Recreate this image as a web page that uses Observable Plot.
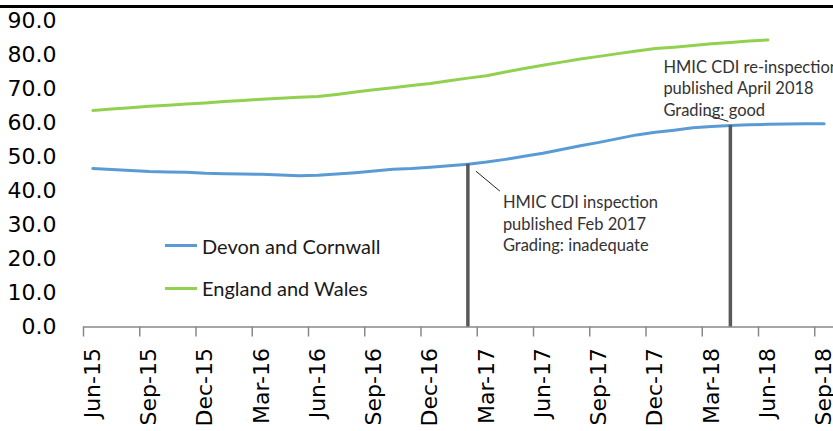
<!DOCTYPE html>
<html>
<head>
<meta charset="utf-8">
<script src="https://cdn.jsdelivr.net/npm/d3@7"></script>
<script src="https://cdn.jsdelivr.net/npm/@observablehq/plot@0.6"></script>
<style>
  body { margin: 0; background: #fff; }
  #wrap { position: relative; width: 833px; height: 431px; overflow: hidden; background: #fff; }
  #topline { position: absolute; left: 0; top: 4.5px; width: 833px; height: 3px; background: #000; }
  .leg { position: absolute; left: 165px; height: 24px; display: flex; align-items: center;
         font-family: Lato, "Open Sans", sans-serif; font-size: 20px; color: #1a1a1a; white-space: nowrap; }
  .sw { width: 32px; height: 3px; margin-right: 5px; }
</style>
</head>
<body>
<div id="wrap"><div id="topline"></div></div>
<script>
// ---- data ----
const months = [
  "Jun-15","Jul-15","Aug-15","Sep-15","Oct-15","Nov-15","Dec-15","Jan-16","Feb-16","Mar-16",
  "Apr-16","May-16","Jun-16","Jul-16","Aug-16","Sep-16","Oct-16","Nov-16","Dec-16","Jan-17",
  "Feb-17","Mar-17","Apr-17","May-17","Jun-17","Jul-17","Aug-17","Sep-17","Oct-17","Nov-17",
  "Dec-17","Jan-18","Feb-18","Mar-18","Apr-18","May-18","Jun-18","Jul-18","Aug-18","Sep-18"
];
const devonCornwall = [
  46.6, 46.3, 46.0, 45.7, 45.6, 45.5, 45.2, 45.1, 45.0, 44.9,
  44.7, 44.5, 44.6, 45.0, 45.4, 45.9, 46.4, 46.6, 47.0, 47.4,
  47.9, 48.5, 49.3, 50.2, 51.1, 52.2, 53.3, 54.3, 55.4, 56.5,
  57.3, 57.9, 58.6, 59.0, 59.3, 59.5, 59.6, 59.7, 59.8, 59.8
];
const englandWales = [
  63.7, 64.1, 64.5, 64.9, 65.2, 65.6, 65.9, 66.3, 66.6, 67.0,
  67.3, 67.6, 67.8, 68.4, 69.1, 69.8, 70.4, 71.0, 71.6, 72.4,
  73.2, 73.9, 75.0, 76.0, 77.0, 77.9, 78.8, 79.6, 80.4, 81.2,
  81.9, 82.3, 82.8, 83.3, 83.7, 84.1, 84.4
];
const seriesNames = ["Devon and Cornwall", "England and Wales"];
const tickLabels = ["Jun-15","Sep-15","Dec-15","Mar-16","Jun-16","Sep-16","Dec-16",
                    "Mar-17","Jun-17","Sep-17","Dec-17","Mar-18","Jun-18","Sep-18"];
const yTicks = [0, 10, 20, 30, 40, 50, 60, 70, 80, 90];
const annotationMonths = ["Feb-17", "Apr-18"];
const annotationTexts = [
  "HMIC CDI inspection\npublished Feb 2017\nGrading: inadequate",
  "HMIC CDI re-inspection\npublished April 2018\nGrading: good"
];

// ---- derived tables ----
const devonRows = devonCornwall.map((v, i) => ({i, v}));
const englandRows = englandWales.map((v, i) => ({i, v}));
const labelIdx = tickLabels.map(m => months.indexOf(m));
const boundaries = labelIdx.map(i => i - 0.5);
const annRows = annotationMonths.map((m, k) => {
  const i = months.indexOf(m);
  return {i, v: devonCornwall[i], text: annotationTexts[k]};
});

const blue = "#5B9BD5", green = "#92D050", axisGray = "#898989";
const noteFont = "Lato, 'Open Sans', sans-serif";
const pxPerMonth = (833 - 83) / months.length;
const pxPerUnit = (326.5 - 20.5) / 90;

const plot = Plot.plot({
  width: 833,
  height: 431,
  marginLeft: 83,
  marginRight: 0,
  marginTop: 20.5,
  marginBottom: 104.5,
  x: {type: "linear", domain: [-0.5, months.length - 0.5], label: null},
  y: {domain: [0, 90], label: null},
  style: {fontFamily: "'DejaVu Sans', Verdana, sans-serif", fontSize: "22px", color: "#000", background: "#fff", overflow: "visible"},
  marks: [
    Plot.axisY({ticks: yTicks, tickFormat: d => d.toFixed(1), tickSize: 0, tickPadding: 27, fontSize: 22, label: null}),
    Plot.axisX({ticks: boundaries, tickFormat: () => "", tickSize: 10, stroke: axisGray, strokeWidth: 1.5, label: null}),
    Plot.axisX({ticks: labelIdx, tickFormat: i => months[i], tickSize: 0, tickPadding: 21, tickRotate: -90, fontSize: 22, label: null}),
    Plot.ruleY([0], {stroke: axisGray, strokeWidth: 1.5}),
    Plot.line(devonRows, {x: "i", y: "v", stroke: blue, strokeWidth: 3}),
    Plot.line(englandRows, {x: "i", y: "v", stroke: green, strokeWidth: 3}),
    Plot.ruleX(annRows, {x: "i", y1: 0, y2: "v", stroke: "#595959", strokeWidth: 3.5}),
    // leader lines (offsets from each annotation anchor, in pixels converted to data units)
    Plot.link([annRows[0]], {
      x1: d => d.i + 8 / pxPerMonth, y1: d => d.v - 7 / pxPerUnit,
      x2: d => d.i + 32 / pxPerMonth, y2: d => d.v - 27 / pxPerUnit,
      stroke: "#222", strokeWidth: 1
    }),
    Plot.link([annRows[1]], {
      x1: d => d.i - 25 / pxPerMonth, y1: d => d.v + 11 / pxPerUnit,
      x2: d => d.i - 2 / pxPerMonth, y2: d => d.v + 4 / pxPerUnit,
      stroke: "#222", strokeWidth: 1
    }),
    Plot.text([annRows[0]], {x: "i", y: "v", text: "text", dx: 35, dy: 29,
      textAnchor: "start", lineAnchor: "top", lineHeight: 1.3,
      fontFamily: noteFont, fontSize: 16.5, fill: "#333"}),
    Plot.text([annRows[1]], {x: "i", y: "v", text: "text", dx: -67, dy: -68,
      textAnchor: "start", lineAnchor: "top", lineHeight: 1.3,
      fontFamily: noteFont, fontSize: 16.5, fill: "#333"})
  ]
});

const wrap = document.getElementById("wrap");
wrap.insertBefore(plot, wrap.firstChild);

[[seriesNames[0], blue, 233.7], [seriesNames[1], green, 276]].forEach(([name, col, top]) => {
  const d = document.createElement("div");
  d.className = "leg";
  d.style.top = top + "px";
  const s = document.createElement("div");
  s.className = "sw";
  s.style.background = col;
  const t = document.createElement("span");
  t.textContent = name;
  d.appendChild(s); d.appendChild(t);
  wrap.appendChild(d);
});
</script>
</body>
</html>
